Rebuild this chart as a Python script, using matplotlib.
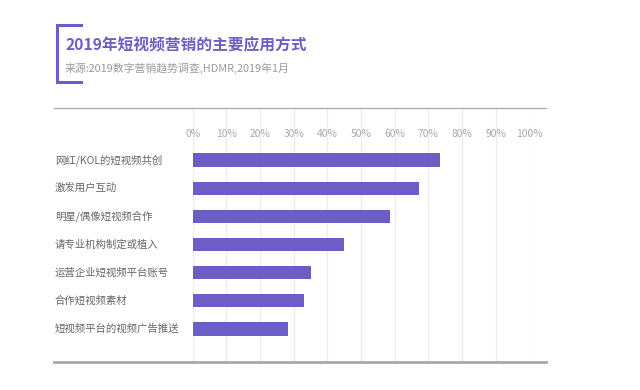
import matplotlib
matplotlib.use("Agg")
import matplotlib.pyplot as plt
from matplotlib.lines import Line2D
from matplotlib.transforms import blended_transform_factory

plt.rcParams["font.family"] = ["Noto Sans CJK SC", "DejaVu Sans"]

TITLE = "2019年短视频营销的主要应用方式"
SOURCE = "来源:2019数字营销趋势调查,HDMR,2019年1月"
categories = ["网红/KOL的短视频共创", "激发用户互动", "明星/偶像短视频合作",
              "请专业机构制定或植入", "运营企业短视频平台账号", "合作短视频素材",
              "短视频平台的视频广告推送"]
values = [73.5, 67.3, 58.6, 45.0, 35.0, 33.0, 28.3]
ticks = [0, 10, 20, 30, 40, 50, 60, 70, 80, 90, 100]
tick_labels = [f"{t}%" for t in ticks]

PURPLE = "#6c5ec4"
W, H = 640, 390

fig = plt.figure(figsize=(6.4, 3.9), dpi=100)
ax = fig.add_axes([192.7 / W, 28 / H, 336.6 / W, 254 / H])

y = list(range(len(categories)))
ax.barh(y, values, height=0.47, color=PURPLE, zorder=3)
ax.set_xlim(0, 100)
ax.set_ylim(7.17, -1.846)
ax.set_xticks(ticks)
ax.set_yticks([])
ax.tick_params(axis="x", length=0, labelbottom=False)
ax.grid(axis="x", color="#ececec", linewidth=1, zorder=0)
for s in ax.spines.values():
    s.set_visible(False)

# tick labels sit inside the plot area below the top rule
for t, lab in zip(ticks, tick_labels):
    ax.text(t, -0.92, lab, ha="center", va="center", fontsize=7.4,
            color="#a8a8a8", zorder=4)

# category labels, left aligned at the figure margin
tr = blended_transform_factory(fig.transFigure, ax.transData)
for yi, c in zip(y, categories):
    ax.text(55 / W, yi, c, transform=tr, ha="left", va="center",
            fontsize=7.5, color="#666666", clip_on=False)

# top and bottom rules
fig.add_artist(Line2D([54 / W, 546 / W], [1 - 107.5 / H] * 2,
                      color="#b0b0b0", linewidth=1.0))
fig.add_artist(Line2D([54 / W, 546 / W], [1 - 362 / H] * 2,
                      color="#a8a8a8", linewidth=2.0))

# purple bracket next to the title
bx = 57 / W
fig.add_artist(Line2D([81 / W, bx, bx, 81 / W],
                      [1 - 25 / H, 1 - 25 / H, 1 - 82 / H, 1 - 82 / H],
                      color=PURPLE, linewidth=2.2, solid_joinstyle="miter"))

fig.text(65 / W, 1 - 45 / H, TITLE, ha="left", va="center", fontsize=11.3,
         fontweight="bold", color=PURPLE)
fig.text(65 / W, 1 - 68 / H, SOURCE, ha="left", va="center", fontsize=7.8,
         color="#9a9a9a")

fig.savefig("out.png", dpi=100, facecolor="white")
